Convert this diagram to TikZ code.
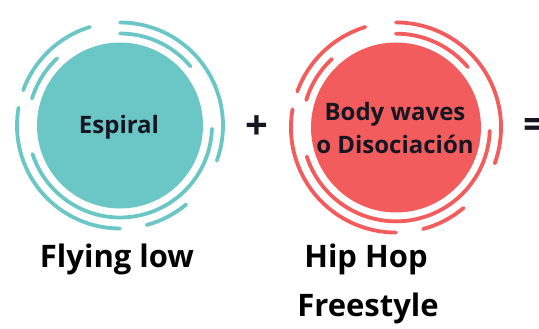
\documentclass[tikz,border=0pt]{standalone}
\usepackage{fontspec}
\setmainfont{Open Sans}
\definecolor{tealA}{RGB}{106,199,198}
\definecolor{redA}{RGB}{243,92,92}
\definecolor{inkA}{RGB}{22,22,34}
\newcommand\myrings[2]{%
  \draw[ring,#1] (90:#2*103) arc[start angle=90,end angle=-20,radius=#2*103];
  \draw[ring,#1] (107:#2*103) arc[start angle=107,end angle=160,radius=#2*103];
  \draw[ring,#1] (170:#2*103) arc[start angle=170,end angle=270,radius=#2*103];
  \draw[ring,#1] (285:#2*103) arc[start angle=285,end angle=310,radius=#2*103];
  \draw[ring,#1] (90:#2*92) arc[start angle=90,end angle=40,radius=#2*92];
  \draw[ring,#1] (133:#2*92) arc[start angle=133,end angle=163,radius=#2*92];
  \draw[ring,#1] (198:#2*92) arc[start angle=198,end angle=358,radius=#2*92];
}
\begin{document}
\begin{tikzpicture}[x=1pt,y=1pt,
  ring/.style={line width=3.8pt,line cap=round},
  disklabel/.style={font=\fontsize{24}{33}\selectfont\bfseries,text=inkA,align=center,inner sep=0pt},
  hand/.style={font=\fontsize{31}{31}\selectfont\bfseries,text=black,inner sep=0pt,anchor=base},
  opsign/.style={font=\fontsize{40}{40}\selectfont\bfseries,text=inkA,inner sep=0pt}]
\useasboundingbox (0,0) rectangle (539,329);
\fill[white] (0,0) rectangle (539,329);
% left disk
\begin{scope}[shift={(120,203.5)}]
  \fill[tealA] (0,0) circle (83);
  \myrings{tealA}{1}
\end{scope}
\node[disklabel] (espiral) at (119,202) {Espiral};
% right disk
\begin{scope}[shift={(396,201.5)}]
  \fill[redA] (0,0) circle (85);
  \myrings{redA}{1.02}
\end{scope}
\node[disklabel] (body) at (395,201) {Body waves\\o Disociación};
% signs
\node[opsign] (plus) at (257,201) {+};
\node[opsign,anchor=west] (equals) at (523,200) {=};
% handwritten labels
\node[hand] (flying) at (117,61) {Flying low};
\node[hand] (hiphop) at (366,61) {Hip Hop};
\node[hand] (freestyle) at (368,12) {Freestyle};
\end{tikzpicture}
\end{document}
